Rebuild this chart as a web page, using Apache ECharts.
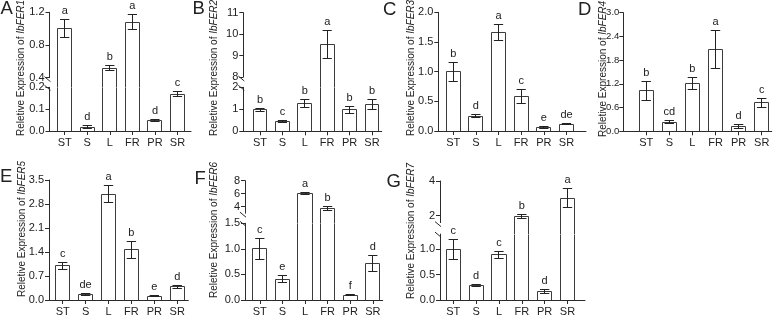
<!DOCTYPE html>
<html><head><meta charset="utf-8">
<script src="https://cdn.jsdelivr.net/npm/echarts@6/dist/echarts.min.js"></script>
<style>html,body{margin:0;padding:0;background:#fff}#c{width:777px;height:317px}</style>
</head><body><div id="c"></div><script>
// ---------------- DATA ----------------
const categories = ['ST', 'S', 'L', 'FR', 'PR', 'SR'];
const genes = ['IbFER1', 'IbFER2', 'IbFER3', 'IbFER4', 'IbFER5', 'IbFER6', 'IbFER7'];

const valuesA = [1.00, 0.018, 0.515, 1.08, 0.049, 0.169];
const errorsA = [0.11, 0.008, 0.03, 0.095, 0.004, 0.012];
const lettersA = ['a', 'd', 'b', 'a', 'd', 'c'];

const valuesB = [0.98, 0.45, 1.26, 9.5, 0.97, 1.2];
const errorsB = [0.07, 0.06, 0.18, 0.65, 0.18, 0.23];
const lettersB = ['b', 'c', 'b', 'a', 'b', 'b'];

const valuesC = [1.0, 0.25, 1.66, 0.58, 0.06, 0.115];
const errorsC = [0.16, 0.02, 0.14, 0.12, 0.02, 0.006];
const lettersC = ['b', 'd', 'a', 'c', 'e', 'de'];

const valuesD = [1.02, 0.23, 1.21, 2.06, 0.11, 0.72];
const errorsD = [0.24, 0.04, 0.15, 0.48, 0.05, 0.11];
const lettersD = ['b', 'cd', 'b', 'a', 'd', 'c'];

const valuesE = [1.0, 0.17, 3.09, 1.46, 0.11, 0.38];
const errorsE = [0.1, 0.03, 0.25, 0.24, 0.01, 0.03];
const lettersE = ['c', 'de', 'a', 'b', 'e', 'd'];

const valuesF = [1.0, 0.41, 6.05, 3.75, 0.09, 0.71];
const errorsF = [0.2, 0.065, 0.18, 0.35, 0.01, 0.16];
const lettersF = ['c', 'e', 'a', 'b', 'f', 'd'];

const valuesG = [1.0, 0.29, 0.89, 1.93, 0.16, 3.0];
const errorsG = [0.2, 0.015, 0.07, 0.12, 0.04, 0.55];
const lettersG = ['c', 'd', 'c', 'b', 'd', 'a'];

// y tick labels (lower segment, upper segment)
const yTicksA = [['0.0', '0.1', '0.2'], ['0.4', '0.8', '1.2']];
const yTicksB = [['0', '1', '2'], ['8', '9', '10', '11']];
const yTicksC = [['0.0', '0.5', '1.0', '1.5', '2.0']];
const yTicksD = [['0.0', '0.6', '1.2', '1.8', '2.4', '3.0']];
const yTicksE = [['0.0', '0.7', '1.4', '2.1', '2.8', '3.5']];
const yTicksF = [['0.0', '0.5', '1.0', '1.5'], ['4', '6', '8']];
const yTicksG = [['0.0', '0.5', '1.0'], ['2', '4']];

// ---------------- LAYOUT ----------------
const layout = {
  A: {x0: 49.5, x1: 191, c0: 64.7, sp: 22.56, title: [21.7, 68], tag: [0.5, 8.5], yFont: 11,
      segs: [{lo: 0, hi: 0.2, yb: 131, yt: 87.3}, {lo: 0.4, hi: 1.2, yb: 77.7, yt: 12.3}]},
  B: {x0: 243.3, x1: 381.7, c0: 260, sp: 22.4, title: [214, 68], tag: [192.5, 8.5], yFont: 11,
      segs: [{lo: 0, hi: 2, yb: 131.3, yt: 87.3}, {lo: 8, hi: 11, yb: 77, yt: 12.7}]},
  C: {x0: 438.3, x1: 586, c0: 453.2, sp: 22.66, title: [411.7, 68], tag: [383, 10], yFont: 11,
      segs: [{lo: 0, hi: 2, yb: 131, yt: 12.3}]},
  D: {x0: 623.3, x1: 771.7, c0: 646.2, sp: 23.1, title: [603.5, 69], tag: [578, 10], yFont: 9.5,
      segs: [{lo: 0, hi: 3, yb: 131.3, yt: 12.7}]},
  E: {x0: 49, x1: 188.3, c0: 62.7, sp: 22.9, title: [22.3, 229], tag: [0, 177], yFont: 11,
      segs: [{lo: 0, hi: 3.5, yb: 300, yt: 180}]},
  F: {x0: 245, x1: 382.7, c0: 259.8, sp: 22.6, title: [214, 230], tag: [194.5, 178.5], yFont: 11,
      segs: [{lo: 0, hi: 1.5, yb: 300, yt: 223.3}, {lo: 3, hi: 8, yb: 213.2, yt: 180.7}]},
  G: {x0: 440, x1: 585, c0: 453.3, sp: 22.84, title: [411.7, 231], tag: [386.5, 182], yFont: 11,
      segs: [{lo: 0, hi: 1.3, yb: 300, yt: 234.1}, {lo: 1.6, hi: 4, yb: 222.6, yt: 181}]}
};

const FONT = 'Liberation Sans, Arial, Helvetica, sans-serif';
const AXIS_COLOR = '#2b2b2b';
const BAR_COLOR = '#3c3c3c';
const TEXT_COLOR = '#222';

const panels = [
  {key: 'A', gene: genes[0], values: valuesA, errors: errorsA, letters: lettersA, ticks: yTicksA},
  {key: 'B', gene: genes[1], values: valuesB, errors: errorsB, letters: lettersB, ticks: yTicksB},
  {key: 'C', gene: genes[2], values: valuesC, errors: errorsC, letters: lettersC, ticks: yTicksC},
  {key: 'D', gene: genes[3], values: valuesD, errors: errorsD, letters: lettersD, ticks: yTicksD},
  {key: 'E', gene: genes[4], values: valuesE, errors: errorsE, letters: lettersE, ticks: yTicksE},
  {key: 'F', gene: genes[5], values: valuesF, errors: errorsF, letters: lettersF, ticks: yTicksF},
  {key: 'G', gene: genes[6], values: valuesG, errors: errorsG, letters: lettersG, ticks: yTicksG}
];

function crisp(v) { return Math.round(v - 0.5) + 0.5; }

function makeRender(seg, gapPx, letters) {
  return function (params, api) {
    const i = api.value(0), v = api.value(1), e = api.value(2);
    if (v < seg.lo) return null;
    const bw = api.size([1, 0])[0] * 0.62;
    const base = api.coord([i, seg.lo]);
    const xc = base[0];
    const xl = crisp(xc - bw / 2), xr = crisp(xc + bw / 2);
    const yBottom = base[1] + gapPx;
    const yTop = crisp(api.coord([i, Math.min(v, seg.hi)])[1]);
    const st = {stroke: BAR_COLOR, lineWidth: 1, fill: null};
    const ch = [
      {type: 'line', shape: {x1: xl, y1: yBottom, x2: xl, y2: yTop}, style: st},
      {type: 'line', shape: {x1: xr, y1: yBottom, x2: xr, y2: yTop}, style: st}
    ];
    if (v <= seg.hi) {
      ch.push({type: 'line', shape: {x1: xl, y1: yTop, x2: xr, y2: yTop}, style: st});
      const yHi = crisp(api.coord([i, v + e])[1]);
      const yLo = crisp(api.coord([i, v - e])[1]);
      const cw = bw * 0.33;
      const xe = crisp(xc);
      const es = {stroke: '#222', lineWidth: 1};
      ch.push({type: 'line', shape: {x1: xe, y1: yLo, x2: xe, y2: yHi}, style: es});
      ch.push({type: 'line', shape: {x1: xc - cw, y1: yHi, x2: xc + cw, y2: yHi}, style: es});
      ch.push({type: 'line', shape: {x1: xc - cw, y1: yLo, x2: xc + cw, y2: yLo}, style: es});
      ch.push({type: 'text', x: xc, y: yHi - 3,
        style: {text: letters[params.dataIndex], textAlign: 'center', textVerticalAlign: 'bottom',
                fontSize: 11, fontFamily: FONT, fill: TEXT_COLOR}});
    }
    return {type: 'group', children: ch};
  };
}

const grids = [], xAxes = [], yAxes = [], series = [], graphics = [];
const catIdx = categories.map((c, i) => i);

panels.forEach(p => {
  const L = layout[p.key];
  const xmin = (L.x0 - L.c0) / L.sp, xmax = (L.x1 - L.c0) / L.sp;
  L.segs.forEach((s, si) => {
    const gi = grids.length;
    grids.push({left: L.x0, top: s.yt, width: L.x1 - L.x0, height: s.yb - s.yt,
                containLabel: false, outerBoundsMode: 'none'});
    const isLower = si === 0;
    xAxes.push({
      gridIndex: gi, type: 'value', min: xmin, max: xmax, show: isLower,
      axisLine: {show: true, onZero: false, lineStyle: {color: AXIS_COLOR, width: 1}},
      axisTick: {show: true, customValues: catIdx, length: 4, lineStyle: {color: AXIS_COLOR}},
      axisLabel: {show: true, customValues: catIdx, formatter: v => categories[Math.round(v)],
                  fontSize: 11, color: TEXT_COLOR, margin: 6, fontFamily: FONT},
      splitLine: {show: false}
    });
    const labels = p.ticks[si];
    const tv = labels.map(Number);
    yAxes.push({
      gridIndex: gi, type: 'value', min: s.lo, max: s.hi,
      axisLine: {show: true, onZero: false, lineStyle: {color: AXIS_COLOR, width: 1}},
      axisTick: {show: true, customValues: tv, length: 4, lineStyle: {color: AXIS_COLOR}},
      axisLabel: {show: true, customValues: tv, margin: L.yFont < 11 ? 4 : 5, fontSize: L.yFont, color: TEXT_COLOR, fontFamily: FONT,
                  formatter: v => { const k = tv.findIndex(t => Math.abs(t - v) < 1e-9); return k >= 0 ? labels[k] : ''; }},
      splitLine: {show: false}
    });
    const gapPx = si === 1 ? (L.segs[0].yt - s.yb) : 0;
    series.push({
      type: 'custom', xAxisIndex: gi, yAxisIndex: gi, clip: false, silent: true,
      data: p.values.map((v, i) => [i, v, p.errors[i]]),
      renderItem: makeRender(s, gapPx, p.letters)
    });
    // axis-break slashes
    if (L.segs.length > 1) {
      const ax = L.x0;
      const y = si === 1 ? s.yb : s.yt;
      const dy = si === 1 ? [-1, 4] : [-2, 3];
      graphics.push({type: 'line', silent: true,
        shape: {x1: ax - 5, y1: y + dy[0], x2: ax + 1, y2: y + dy[1]},
        style: {stroke: AXIS_COLOR, lineWidth: 1}});
    }
  });
  // y-axis title
  graphics.push({type: 'text', silent: true, x: L.title[0], y: L.title[1], rotation: Math.PI / 2,
    style: {text: 'Reletive Expression of {i|' + p.gene + '}', textAlign: 'center', textVerticalAlign: 'middle',
            fontSize: 10, fontFamily: FONT, fill: TEXT_COLOR,
            rich: {i: {fontStyle: 'italic', fontSize: 10, fontFamily: FONT, fill: TEXT_COLOR}}}});
  // panel tag
  graphics.push({type: 'text', silent: true, x: L.tag[0], y: L.tag[1],
    style: {text: p.key, textAlign: 'left', textVerticalAlign: 'middle', fontSize: 18.5, fontFamily: FONT, fill: TEXT_COLOR}});
});

const chart = echarts.init(document.getElementById('c'), null, {renderer: 'canvas', width: 777, height: 317});
chart.setOption({
  animation: false,
  backgroundColor: '#fff',
  grid: grids, xAxis: xAxes, yAxis: yAxes, series: series,
  graphic: graphics
});
</script></body></html>
